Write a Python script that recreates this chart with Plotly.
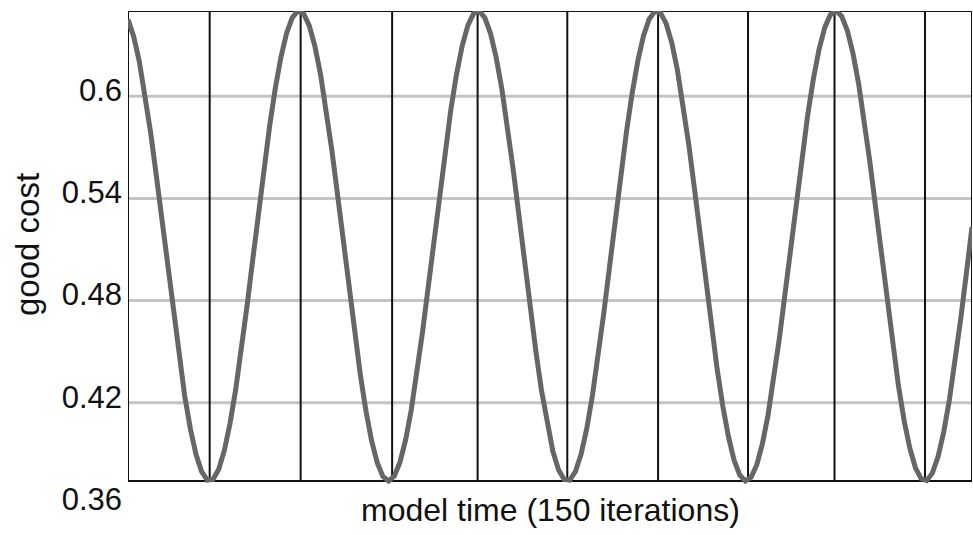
import plotly.graph_objects as go

# ---- data ----
iterations = list(range(150))
good_cost = [
    0.6450, 0.6351, 0.6203, 0.6012, 0.5786, 0.5534, 0.5266, 0.4991, 0.4722, 0.4469,
    0.4242, 0.4049, 0.3898, 0.3796, 0.3746, 0.3750, 0.3809, 0.3919, 0.4077, 0.4275,
    0.4508, 0.4765, 0.5035, 0.5309, 0.5576, 0.5824, 0.6045, 0.6229, 0.6370, 0.6461,
    0.6500, 0.6484, 0.6414, 0.6293, 0.6126, 0.5919, 0.5681, 0.5420, 0.5148, 0.4875,
    0.4611, 0.4368, 0.4154, 0.3978, 0.3848, 0.3768, 0.3741, 0.3769, 0.3850, 0.3981,
    0.4157, 0.4372, 0.4616, 0.4879, 0.5153, 0.5425, 0.5685, 0.5923, 0.6129, 0.6296,
    0.6416, 0.6485, 0.6500, 0.6460, 0.6368, 0.6227, 0.6042, 0.5820, 0.5571, 0.5304,
    0.5030, 0.4760, 0.4504, 0.4272, 0.4074, 0.3916, 0.3807, 0.3750, 0.3746, 0.3797,
    0.3900, 0.4051, 0.4245, 0.4474, 0.4727, 0.4996, 0.5271, 0.5539, 0.5791, 0.6016,
    0.6206, 0.6353, 0.6452, 0.6498, 0.6489, 0.6427, 0.6313, 0.6152, 0.5950, 0.5716,
    0.5458, 0.5187, 0.4913, 0.4647, 0.4400, 0.4182, 0.4001, 0.3863, 0.3776, 0.3741,
    0.3762, 0.3835, 0.3960, 0.4130, 0.4340, 0.4580, 0.4842, 0.5114, 0.5387, 0.5650,
    0.5891, 0.6102, 0.6275, 0.6402, 0.6478, 0.6501, 0.6469, 0.6384, 0.6249, 0.6070,
    0.5853, 0.5607, 0.5343, 0.5069, 0.4797, 0.4539, 0.4303, 0.4099, 0.3936, 0.3820,
    0.3755, 0.3743, 0.3787, 0.3883, 0.4027, 0.4216, 0.4439, 0.4690, 0.4958, 0.5232,
]
extrema_times = [14.42, 30.48, 46.63, 61.72, 77.55, 93.58, 109.46, 124.73, 140.70]
y_ticks = [0.36, 0.42, 0.48, 0.54, 0.6]
y_tick_text = ["0.36", "0.42", "0.48", "0.54", "0.6"]
grid_values = [0.42, 0.48, 0.54, 0.6]
y_min_axis, y_max_axis = 0.36, 0.65

FONT = "Liberation Sans, Arial, sans-serif"

fig = go.Figure()
fig.add_trace(go.Scatter(
    x=iterations, y=good_cost, mode="lines",
    line=dict(color="#666666", width=5),
    hoverinfo="skip", showlegend=False,
))

x0, x1 = iterations[0], iterations[-1]
lo = min(good_cost)

shapes = []
for g in grid_values:
    shapes.append(dict(type="line", xref="x", yref="y", x0=x0, x1=x1, y0=g, y1=g,
                       line=dict(color="#c4c4c4", width=3), layer="below"))
for t in extrema_times:
    shapes.append(dict(type="line", xref="x", yref="y", x0=t, x1=t, y0=lo, y1=y_max_axis,
                       line=dict(color="#111111", width=2), layer="below"))
shapes.append(dict(type="rect", xref="x", yref="y", x0=x0, x1=x1, y0=lo, y1=y_max_axis,
                   line=dict(color="#111111", width=2), layer="below"))

fig.update_layout(
    width=973, height=535,
    margin=dict(l=128, r=1, t=11, b=30),
    paper_bgcolor="white", plot_bgcolor="white",
    shapes=shapes,
    xaxis=dict(range=[x0, x1], showgrid=False, zeroline=False, showline=False,
               showticklabels=False, ticks=""),
    yaxis=dict(range=[y_min_axis, y_max_axis], tickvals=y_ticks, ticktext=y_tick_text,
               showgrid=False, zeroline=False, showline=False, ticks="",
               tickfont=dict(family=FONT, size=31, color="#111111"),
               ticklabelstandoff=5, ticklabelshift=-6),
    annotations=[
        dict(text="model time (150 iterations)", xref="paper", yref="paper",
             x=0.5, y=-0.0, yshift=-5, xanchor="center", yanchor="middle", showarrow=False,
             font=dict(family=FONT, size=32, color="#111111")),
        dict(text="good cost", xref="paper", yref="paper", x=0, xshift=-101,
             y=0.5, yshift=13, textangle=-90, xanchor="center", yanchor="middle",
             showarrow=False, font=dict(family=FONT, size=33, color="#111111")),
    ],
)

fig.write_html("out.html", config={"displayModeBar": False},
               post_script="document.body.style.margin='0';")
